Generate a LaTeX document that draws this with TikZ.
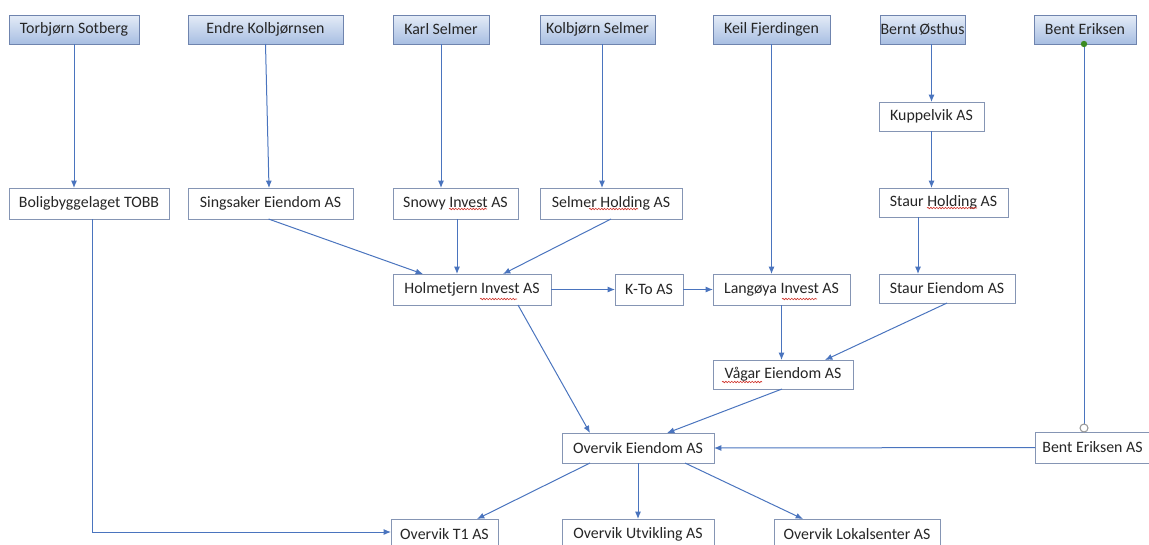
\documentclass[tikz,border=0pt]{standalone}
\usepackage{fontspec}
\setmainfont{Carlito}
\usetikzlibrary{arrows.meta,calc,decorations.pathmorphing}
\definecolor{arr}{HTML}{4A74BE}
\definecolor{wbd}{HTML}{8595B4}
\definecolor{tbd}{HTML}{6F84AE}
\definecolor{ttop}{HTML}{E4ECF7}
\definecolor{tbot}{HTML}{A8BEE2}
\definecolor{sqred}{HTML}{D0342C}
\definecolor{dotgreen}{HTML}{3B8A22}
\newcommand\bx[7]{%
  \pgfmathsetmacro\bw{(#5-#3)*0.75}\pgfmathsetmacro\bh{(#6-#4)*0.75}%
  \node[#1, minimum width=\bw pt, minimum height=\bh pt] (#2) at ({(#3+#5)/2},{(#4+#6)/2}) {#7};}
\tikzset{
  base/.style={inner sep=0pt, outer sep=0pt, font=\fontsize{11.9}{14}\selectfont, text=black!85},
  wbox/.style={base, draw=wbd, line width=0.7pt, fill=white},
  tbox/.style={base, draw=tbd, line width=0.7pt, top color=ttop, bottom color=tbot},
  con/.style={draw=arr, line width=0.75pt, -{Latex[length=5.5pt,width=4.5pt]}},
  sq/.style={draw=sqred, line width=0.45pt, decorate, decoration={snake, amplitude=0.55pt, segment length=2.2pt}}
}
\begin{document}
\begin{tikzpicture}[x=0.75pt,y=-0.75pt]
\useasboundingbox (0,0) rectangle (1149,544);
\clip (0,0) rectangle (1149,544);
% top row
\bx{tbox}{tor}{9}{15}{139}{44}{Torbjørn Sotberg}
\bx{tbox}{end}{188}{15}{343}{44}{Endre Kolbjørnsen}
\bx{tbox}{kar}{393}{15}{489}{44}{Karl Selmer}
\bx{tbox}{kol}{540}{15}{655}{44}{Kolbjørn Selmer}
\bx{tbox}{kei}{713}{15}{830}{44}{Keil Fjerdingen}
\bx{tbox}{ber}{880}{15}{965}{44}{Bernt Østhus}
\bx{tbox}{ben}{1034}{15}{1136}{44}{Bent Eriksen}
% companies
\bx{wbox}{kup}{879}{102}{984}{131}{Kuppelvik AS}
\bx{wbox}{bol}{9}{188}{169}{219}{Boligbyggelaget TOBB}
\bx{wbox}{sin}{188}{188}{353}{219}{Singsaker Eiendom AS}
\bx{wbox}{sno}{393}{188}{518}{219}{Snowy Invest AS}
\bx{wbox}{sel}{540}{188}{682}{219}{Selmer Holding AS}
\bx{wbox}{sth}{879}{188}{1008}{217}{Staur Holding AS}
\bx{wbox}{hol}{393}{274}{551}{305}{Holmetjern Invest AS}
\bx{wbox}{kto}{615}{274}{683}{305}{K-To AS}
\bx{wbox}{lan}{713}{274}{850}{305}{Langøya Invest AS}
\bx{wbox}{ste}{879}{274}{1015}{303}{Staur Eiendom AS}
\bx{wbox}{vag}{713}{360}{853}{389}{Vågar Eiendom AS}
\bx{wbox}{ove}{562}{433}{714}{463}{Overvik Eiendom AS}
\bx{wbox}{bea}{1035}{432}{1150}{463}{Bent Eriksen AS}
\bx{wbox}{t1}{391}{519}{498}{549}{Overvik T1 AS}
\bx{wbox}{utv}{562}{519}{714}{549}{Overvik Utvikling AS}
\bx{wbox}{lok}{774}{519}{940}{549}{Overvik Lokalsenter AS}
% spell-check squiggles
\draw[sq] (449,209) -- (487,209);
\draw[sq] (589,209) -- (638,209);
\draw[sq] (480,299) -- (517,299);
\draw[sq] (782,299) -- (817,299);
\draw[sq] (927,208) -- (977,208);
\draw[sq] (722,382) -- (762,382);
% connectors
\draw[con] (tor.south) -- (tor.south |- bol.north);
\draw[con] (end.south) -- ($(sin.north)+(-1.5,0)$);
\draw[con] (kar.south) -- (kar.south |- sno.north);
\coordinate (k1) at ($(kol.south)+(4.5,0)$);
\draw[con] (k1) -- (k1 |- sel.north);
\draw[con] (kei.south) -- (kei.south |- lan.north);
\draw[con] (kup.north |- ber.south) -- (kup.north);
\draw[con] (kup.south) -- (kup.south |- sth.north);
\coordinate (s1) at ($(sth.south)+(-25.5,0)$);
\draw[con] (s1) -- (s1 |- ste.north);
\draw[con] ($(sin.south)+(-2,0)$) -- ($(hol.north)+(-49,0)$);
\coordinate (n1) at ($(sno.south)+(1.5,0)$);
\draw[con] (n1) -- (n1 |- hol.north);
\draw[con] (sel.south) -- ($(hol.north)+(31,0)$);
\draw[con] (hol.east) -- (kto.west);
\draw[con] (kto.east) -- (lan.west);
\draw[con] (lan.south) -- (lan.south |- vag.north);
\draw[con] (ste.south) -- ($(vag.north)+(42,0)$);
\draw[con] ($(hol.south)+(46,0)$) -- ($(ove.north)+(-48,0)$);
\draw[con] ($(vag.south)+(-1,0)$) -- ($(ove.north)+(29,0)$);
\coordinate (b1) at ($(ben.south)+(-1,0)$);
\coordinate (b2) at ($(b1 |- bea.north)+(0,-4)$);
\draw[draw=arr, line width=0.75pt] (b1) -- (b2);
\fill[dotgreen] (b1) circle (3.2);
\draw[gray!80, fill=white, line width=0.8pt] (b2) circle (4);
\draw[con] (bea.west) -- (ove.east);
\draw[con] ($(ove.south)+(-48,0)$) -- ($(t1.north)+(32.5,0)$);
\draw[con] (ove.south) -- (utv.north);
\draw[con] ($(ove.south)+(47,0)$) -- ($(lok.north)+(-54,0)$);
\draw[con] ($(bol.south)+(3,0)$) |- ($(t1.west)+(0,-2)$);
\end{tikzpicture}
\end{document}
